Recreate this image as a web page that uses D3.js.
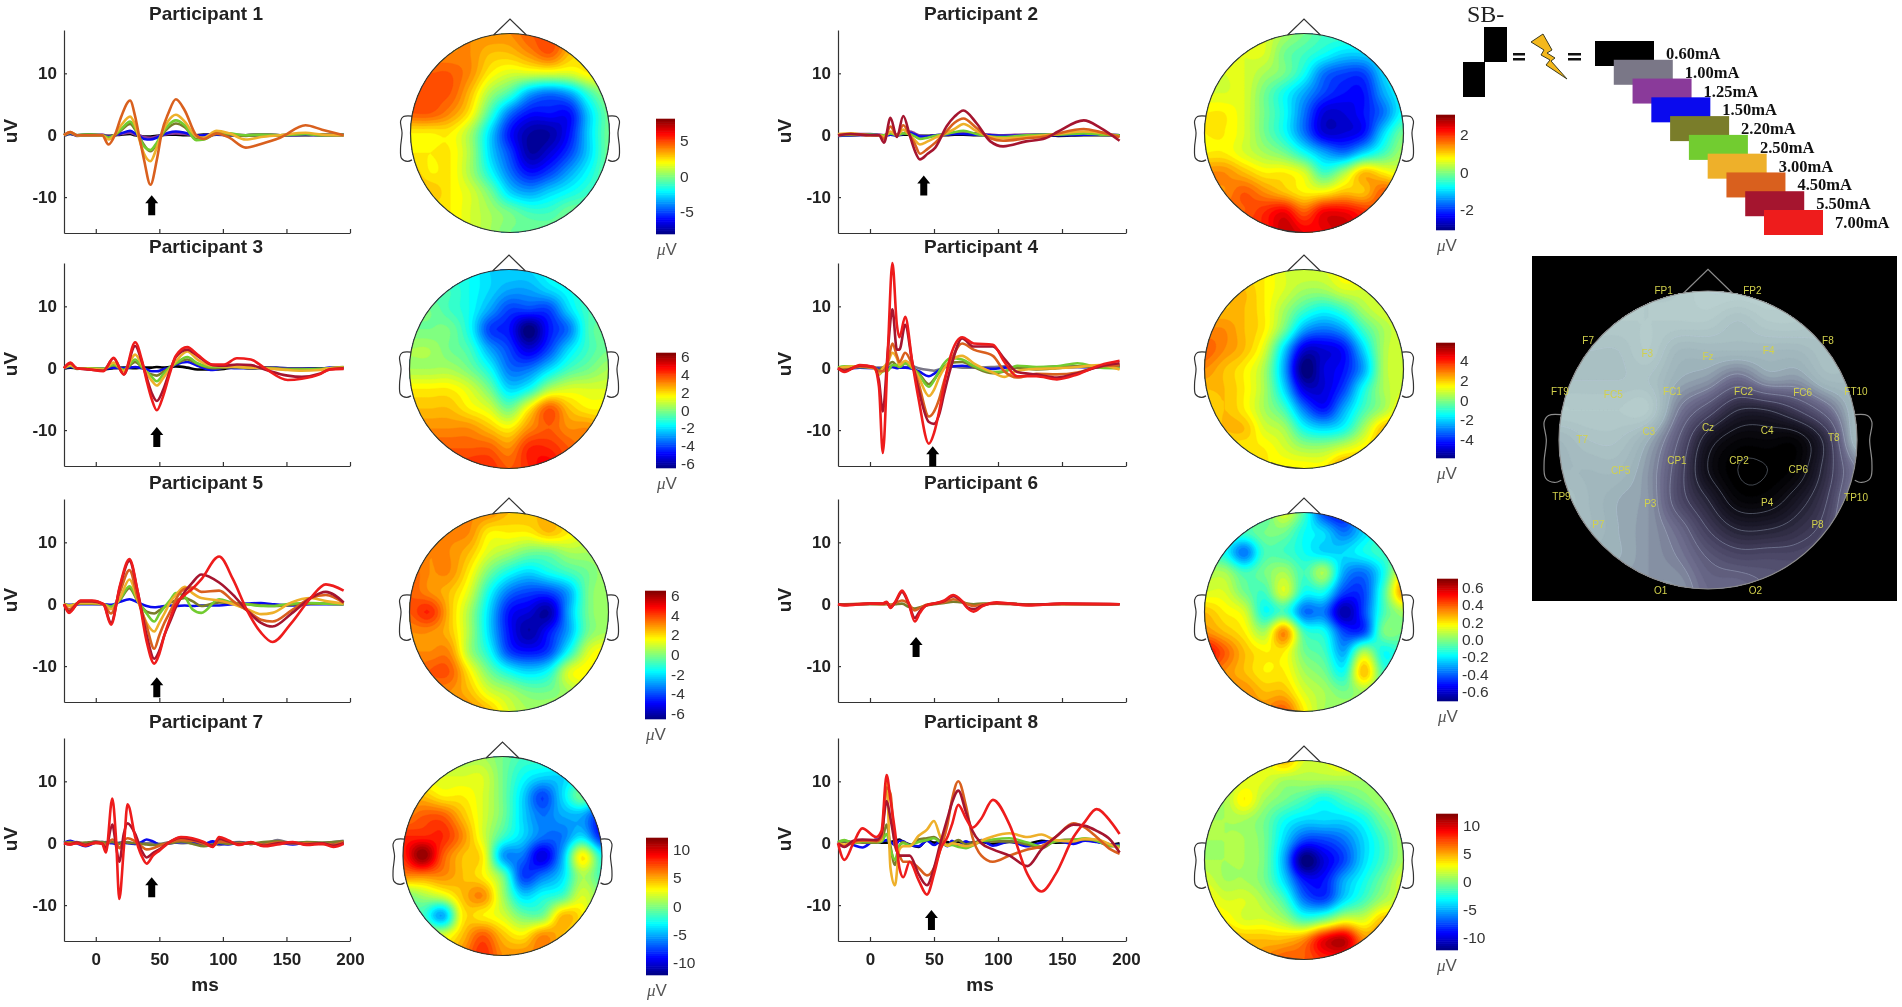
<!DOCTYPE html>
<html>
<head>
<meta charset="utf-8">
<script src="https://cdn.jsdelivr.net/npm/d3@7"></script>
<style>
  body { margin: 0; background: #fff; }
  svg { filter: blur(.5px); }
  text { font-family: "Liberation Sans", Arial, sans-serif; }
  .axis path, .axis line { stroke: #333; stroke-width: 1.2; }
  .axis text { font-size: 17px; font-weight: 700; fill: #222; }
</style>
</head>
<body>
<svg id="fig" width="1902" height="1007"></svg>
<script>
// stimulation currents and their trace colours
const currents = ["0.60mA","1.00mA","1.25mA","1.50mA","2.20mA","2.50mA","3.00mA","4.50mA","5.50mA","7.00mA"];
const currentColors = ["#000000","#7a7787","#8a3a9a","#0a0aee","#7a7d2a","#72cc30","#eeb02a","#d9601e","#a5152f","#ee1c1c"];

const titles = ["Participant 1","Participant 2","Participant 3","Participant 4","Participant 5","Participant 6","Participant 7","Participant 8"];
const msTicks = [0,50,100,150,200];
const uvTicks = [-10,0,10];

// waveforms: knots in ms, then one row per current (index into currents)
const timesP1 = [-25,-20,-15,-5,5,10,15,20,27,31,34,38,43,48,52,57,63,70,79,85,95,105,118,130,145,165,178,195];
const levelsP1 = [0,2,3,4,5,6,7];
const valuesP1 = [
  [0,.2,0,.1,0,-.1,0,.1,.2,0,-.1,-.2,-.2,-.1,0,.1,.1,0,0,.1,.2,0,0,.1,0,0,.1,0],
  [.1,.3,-.1,0,.1,-.2,0,.2,.4,.1,0,-.3,-.4,-.2,0,.2,.3,.2,-.1,0,.1,.1,0,.1,0,.1,0,.1],
  [0,.3,0,0,0,-.3,0,.3,.7,.3,-.1,-.6,-.7,-.4,0,.4,.6,.4,-.1,0,.1,0,0,0,0,.1,0,.1],
  [0,.4,0,0,0,-.4,0,.8,1.8,.9,-.2,-1.6,-2.6,-1.4,0,1.2,1.9,1.3,-.6,-.6,.2,.1,-.1,0,0,.2,0,0],
  [0,.4,0,.1,0,-.4,.1,1,2.2,1.2,-.3,-1.8,-2.4,-1.2,.2,1.6,2.4,1.6,-.8,-.7,.4,.3,0,.1,0,.2,0,.1],
  [0,.5,0,0,0,-.7,.1,1.6,3,1.6,-.5,-3,-4.2,-2,.3,2.3,3.3,2.2,-.2,-.4,.7,.3,-.7,-.3,0,.4,.1,0],
  [0,.5,0,0,0,-1.5,0,3,5.6,3,0,-4,-8,-4,.5,3.5,5.8,4,0,-.6,.3,-.4,-2,-1.4,-.4,1.6,.9,0]
];

const timesP2 = [-25,-15,0,7,11,16,21,26,31,35,39,45,51,60,66,73,83,94,104,122,137,147,167,180,195];
const levelsP2 = [0,2,3,5,6,7,8];
const valuesP2 = [
  [0,0,.1,0,0,.1,0,.1,.1,0,-.1,-.1,0,0,.1,.1,0,0,-.1,0,0,-.1,0,0,0],
  [.1,.2,.2,.1,0,.2,.1,.3,.6,.3,-.1,-.2,0,.1,.3,.4,.3,.1,0,.1,.1,.1,.2,.1,0],
  [-.1,0,.1,0,-.1,.1,0,.2,.4,.1,-.2,-.2,0,.1,.2,.2,.1,0,-.1,0,.1,0,.1,.1,0],
  [0,.1,.1,0,0,.3,0,.3,.2,-.2,-.6,-.4,-.1,.2,.5,.7,.2,-.2,-.3,0,.1,.1,.3,.1,0],
  [.2,.3,0,0,-.3,.6,0,.9,0,-.8,-1.5,-1,-.4,.4,1,1.8,.7,-.3,-.5,-.3,0,.2,.6,.4,-.2],
  [0,.2,0,0,-.6,1.4,0,1.6,0,-1.4,-3,-2.2,-1.2,.7,2,2.7,1.2,-.5,-.9,-.5,-.2,.3,1,.5,-.3],
  [0,.2,0,0,-1.2,2.8,-.3,3.1,0,-2.5,-3.9,-3,-2,1.5,3,4,2,-1,-1.8,-1,-.5,.6,2.4,1.2,-.9]
];

const timesP3 = [-25,-20,-15,-5,6,14,22,31,36,40,44,48,53,58,63,72,80,92,101,111,122,133,151,162,176,184,195];
const levelsP3 = [0,3,4,5,6,8,9];
const valuesP3 = [
  [0,.1,0,-.1,-.2,0,.1,0,.1,.1,.1,.2,.1,.2,.3,.1,-.2,-.2,-.1,.2,0,.1,0,0,0,0,.1],
  [0,.2,0,-.1,-.1,.1,0,.2,0,-.2,-.5,-.5,-.2,.1,.6,1,.4,-.3,.1,0,0,.1,0,0,-.1,.1,0],
  [0,.4,-.1,0,-.1,.5,-.3,1,.2,-.6,-1,-1.2,-.6,.1,.7,1.4,.7,0,.1,.2,0,.1,-.1,-.1,-.2,0,.2],
  [0,.4,0,0,-.1,.6,-.3,1.4,.3,-.6,-1.4,-2.1,-1,.1,.8,1.8,.8,.2,.3,.2,.1,0,-.2,-.2,-.1,0,.1],
  [0,.5,0,-.1,-.2,.9,-.5,2.2,.7,-.8,-2,-2.8,-1.6,-.2,1.1,2.7,1.4,.4,.3,.2,.1,0,-.3,-.4,-.3,0,.1],
  [0,.8,0,-.2,-.4,1.6,-1,3.6,1.2,-1.5,-4,-5.3,-3.5,-.6,1.8,3,2,.5,.4,.6,.5,-.2,-1.2,-1.4,-.9,-.2,0],
  [0,.9,0,-.2,-.5,1.7,-1,4.2,1.5,-2,-5,-6.8,-4.5,-1,2,3.4,2.2,.6,.6,1.6,1.4,0,-1.9,-1.7,-1,-.2,-.1]
];

const timesP4 = [-25,-20,-8,3,7,10,14,17.5,21,23,27.5,33,38,46,50,54,58,63,72,81,96,105,115,130,146,162,180,195];
const levelsP4 = [1,3,4,5,6,7,8,9];
const valuesP4 = [
  [0,.1,.2,.1,.1,.1,.2,.2,.1,.2,.2,.3,0,-.3,-.4,-.2,.2,.3,.1,.1,.2,.3,.1,.1,.3,.2,.2,.5],
  [0,-.1,.1,0,-.1,-.2,0,.2,0,.1,.1,-.1,-.5,-1.3,-.9,-.3,.2,.3,.4,.2,-.1,.1,.2,.1,.1,.2,.1,.3],
  [0,.1,.2,.1,-.3,.1,.5,1,.4,.2,.8,.1,-.8,-2.6,-1.8,-.7,.2,.9,1,.2,-.8,-.5,.1,-.2,0,.3,.3,.4],
  [.1,.3,.2,.2,-1,-.5,-.4,.5,.5,.2,.8,0,-1,-3,-2,-.5,.8,1.6,1.4,.4,-.6,-.5,.4,.2,.3,.8,.1,0],
  [0,.2,.3,0,-1,0,1,2.5,1.6,.5,1.2,.2,-1.5,-4.5,-3.5,-1.5,0,1.2,2,.8,-.7,-1.4,-.4,-.1,0,.2,.5,-.2],
  [0,-.3,.3,.1,-.5,-.5,1,4,2,1,2.5,.5,-2.5,-7.8,-7,-5,-2,1,4,3,2,-.5,-1.5,-.9,-1,-.7,.3,.5],
  [0,-.4,.4,.2,-2,-7,3,9.5,3,3,7,1,-3.5,-8.7,-9,-7.5,-4,0,4.8,3.5,3.5,1.5,-.6,-1,-1.5,-.8,.3,.8],
  [0,-.6,.5,.2,-3,-13.7,3,17,7,5,8.3,1,-5,-12.2,-10.5,-7,-2.5,2,5,4,3.8,1,-1.3,-1.3,-1.8,-1,.5,1.2]
];

const timesP5 = [-25,-21,-12,-3,6,12,19,26.5,33,40,46,50,54,59,63,70,76,83,97,108,119,130,139,154,169,181,195];
const levelsP5 = [3,4,5,6,7,8,9];
const valuesP5 = [
  [0,-.1,0,0,0,-.1,.4,.8,.3,-.3,-.5,-.4,-.3,-.2,-.3,-.2,-.3,-.2,-.2,0,.1,.2,0,-.2,0,0,0],
  [0,-.2,.1,.1,0,-.4,.7,2.6,.5,-1.2,-1.5,-1,-.4,.3,.6,1,.5,-.3,.3,.2,0,-.2,-.3,-.1,.1,.1,0],
  [0,-.2,.2,.2,0,-.4,.8,2.9,.6,-1.5,-2.8,-1.6,-.5,.8,1.8,1.2,-.8,-1.4,.8,.2,0,-.3,-.3,.1,.2,.1,0],
  [0,-.3,.2,.2,0,-.8,1,4,.6,-3,-4.4,-3,-1.5,.5,1.5,2.8,1.8,1,.6,0,-.8,-1.6,-1.4,.3,1,.5,.1],
  [0,-.8,.4,.4,0,-1.5,2,5.5,1,-3.5,-7.2,-5,-3,-1,.8,2.5,2.7,2,2.2,.5,-1,-2.5,-2.8,-1,1,1.5,.2],
  [0,-1.2,.5,.5,0,-3,2.8,7,2,-5,-8.8,-7.5,-5,-2.5,-.5,2,3.5,4.8,3.5,1.5,-1,-3,-3.6,-1.5,1,2,.3],
  [0,-1.4,.6,.6,0,-3.3,3,7.3,2,-6,-9.6,-8,-5,-2,0,1.5,2.5,4,7.7,4,-1,-4.6,-6.1,-3,1,3.2,2.2]
];

const timesP6 = [-25,-20,0,10,13,16,20,25,30,35,39,44,50,58,65,72,76,81,88,99,124,150,195];
const levelsP6 = [4,7,8,9];
const valuesP6 = [
  [0,0,0,0,0,-.1,0,.1,-.4,-.7,-.5,-.2,0,.2,.4,.3,.1,0,.1,.1,0,0,0],
  [0,0,.1,0,.1,-.1,.2,.6,.1,-1,-.6,-.1,.1,.3,.8,.4,0,-.3,0,.1,0,0,0],
  [0,-.1,.1,.1,.3,-.5,.4,2,.2,-2.2,-1.1,-.2,.1,.5,1.3,.4,-.5,-.8,-.2,.2,-.1,.1,0],
  [0,-.2,.1,.1,.4,-.6,.5,2.2,.3,-2.8,-1.4,-.2,.1,.6,1.5,.5,-.6,-1.2,-.3,.3,-.2,.1,0]
];

const timesP7 = [-25,-20,-15,-8,0,5,8,13,16,18.5,22,25,31,36,40,45,50,59,67,76,85,92,97,104,113,122,132,143,155,166,178,187,195];
const levelsP7 = [1,3,4,7,8,9];
const valuesP7 = [
  [.2,.1,.2,-.1,.3,.1,.2,.1,0,.1,.1,.2,-.1,0,0,.1,-.1,.2,0,.1,-.3,.1,-.3,.1,.2,0,-.1,.5,0,.1,-.1,.2,.4],
  [.1,.4,0,-.5,.1,.2,.1,0,-.1,0,.1,0,-.1,.2,.6,.3,-.2,0,.2,.1,-.1,.3,-.1,-.2,.1,-.1,0,.1,-.2,.1,0,.1,.1],
  [.1,.2,0,.1,.2,.2,.1,.2,0,-.1,.2,.1,0,-.1,-.2,-.3,-.2,0,.3,-.1,-.5,-.2,.1,-.1,.1,-.1,.2,.3,0,.2,.1,.2,.3],
  [-.1,0,.1,-.2,0,0,-.3,.6,.2,-.8,.4,.8,.3,-.5,-1,-.8,-.4,.2,.5,.4,-.1,-.5,.3,.2,-.1,0,-.2,.1,0,0,-.1,-.2,.2],
  [0,-.2,.1,-.3,.1,-.1,-.8,3,-.5,-3,1.5,3.2,1.5,-1.2,-2.3,-1.6,-1,.3,.9,.6,.1,-.4,.7,.3,-.2,.1,-.4,0,.1,-.2,0,-.4,0],
  [0,-.2,0,-.4,.1,-.1,-1.5,7.2,.5,-9,-1,6.3,1,-2,-3.3,-2,-1.2,.3,1,.8,.2,-.6,1,.5,-.3,.2,-.5,-.2,.2,-.3,-.1,-.6,-.1]
];

const timesP8 = [-25,-20,-13,-6,5,9,13,16,19.5,23,26,31,38,44.5,50,55,60.5,64,69,75,80,87,96,109,123,134,145,159,168,177,188,195];
const levelsP8 = [0,3,4,5,6,7,8,9];
const valuesP8 = [
  [0,.3,.1,.3,.2,.1,.1,.2,.4,.6,.2,-.2,-.6,.5,.1,.1,.2,-.1,.2,0,.1,.2,-.1,.2,-.1,.4,.1,.2,.5,.3,-.2,0],
  [.1,.3,-.3,-.7,.6,.3,.5,.2,-.3,.4,.3,-.3,-.5,.4,-.3,.3,-.5,.4,-.4,.3,-.2,.5,-.4,.3,-.5,.1,.4,-.1,.4,.2,-.2,-.3],
  [.1,.3,.2,.1,.1,.3,3,-.5,-3.5,-.5,.2,-.4,.6,.8,1,.3,-.2,0,.5,-.2,0,.4,.3,.3,-.2,-.8,.4,.6,.6,.4,-.5,-.5],
  [.2,.5,0,.3,.2,.3,1.5,-1,-2.7,-.3,0,-.3,.2,.5,.8,.1,-.4,-.3,-.6,-.8,-.4,.3,.6,.8,.1,-.5,.3,.5,.8,.4,-.4,-.4],
  [0,-.2,.1,.4,.4,.5,10,-4,-6.8,-1,-.5,-.5,1.2,2.2,3.6,1,-.4,0,-.2,-.5,-.3,.4,1.1,1.6,1,1.4,.5,.3,.7,.6,-.2,-.8],
  [0,-.5,.2,.4,.3,1,9,8,-.5,-2,-3,-3,-4,-5.2,-4,-1,3,7,10,6,1,-2,-3,-2,-1,-.5,1,3.2,2.5,1,-1,-1.7],
  [0,-.6,.4,.6,.5,1.5,6.8,4,0,-2,-2,-2,-5,-6.8,-4,0,4,6.5,8.5,5,2,0,-1,-2,-3.7,-1,1,3,2.8,2,.5,-1.5],
  [0,-2.7,0,2.4,1,2,11,7,2,-4,-5.5,-3,-6,-8.3,-5,-1,1,3,6.2,4,2.5,4,7,3,-5,-7.8,-5,1,3.5,5.5,3.5,1.5]
];

// arrow under each evoked dip: time (ms) and tip value (uV)
const arrowTimes = [44,42,48,49,48,36,44,48];
const arrowTips = [-9.7,-6.5,-9.5,-12.6,-11.8,-5.3,-5.5,-10.8];

// scalp maps, 11 x 11 samples over the head box, in tenths of the colour bar half range
const topoP1 = [
  [5,5,5,5,5,5,6,6,5,4,4],
  [5,5,5,5,4,4,5,6,4,3,3],
  [6,6,6,5,3,2,2,2,2,3,3],
  [6,6,6,4,1,-1,-4,-5,-4,-1,1],
  [6,6,5,3,-1,-5,-7,-7,-7,-3,0],
  [3,3,3,1,-3,-7,-9,-9,-7,-3,0],
  [3,3,3,1,-3,-6,-9,-8,-6,-3,0],
  [4,3,3,1,-2,-5,-7,-6,-4,-2,0],
  [4,4,3,2,0,-3,-4,-3,-2,-1,0],
  [3,3,3,2,1,0,-1,-1,0,0,0],
  [3,3,3,2,1,0,0,0,0,0,0]
];
const topoP2 = [
  [2,2,2,2,1,0,-1,-1,-1,-1,-1],
  [2,2,2,2,0,-1,-2,-3,-3,-2,-1],
  [2,2,2,1,0,-2,-5,-6,-6,-3,-1],
  [2,2,2,0,-2,-4,-6,-7,-7,-4,-2],
  [3,3,2,0,-2,-5,-8,-8,-7,-5,-2],
  [3,3,2,0,-2,-5,-8,-8,-7,-3,0],
  [3,3,2,1,0,-2,-4,-5,-3,-1,1],
  [5,5,4,3,3,2,-1,1,4,3,2],
  [5,5,6,5,4,3,3,4,4,6,5],
  [6,6,6,7,8,6,8,8,7,6,6],
  [7,7,7,7,9,8,8,9,7,7,7]
];
const topoP3 = [
  [-1,-1,-2,-2,-3,-3,-3,-2,-1,-1,-1],
  [-1,-1,-1,-2,-3,-4,-4,-3,-2,-1,-1],
  [0,0,-1,-2,-4,-6,-6,-6,-3,-1,-1],
  [0,0,0,-2,-6,-7,-10,-7,-5,-1,0],
  [1,1,0,-1,-4,-6,-8,-6,-3,-1,0],
  [1,1,1,0,-2,-5,-5,-3,-1,0,1],
  [3,3,3,2,0,-3,-2,1,2,2,2],
  [4,4,4,3,2,0,3,6,4,3,3],
  [5,5,5,5,4,3,5,6,5,5,4],
  [6,6,6,6,6,5,7,7,6,5,5],
  [6,6,6,7,7,6,7,8,6,6,6]
];
const topoP4 = [
  [3,3,3,3,2,2,2,3,3,2,2],
  [4,4,4,3,2,1,1,2,2,2,2],
  [4,4,4,3,1,-1,-2,-1,1,2,2],
  [5,5,4,3,0,-4,-5,-4,-1,1,2],
  [6,5,4,2,-3,-8,-8,-7,-3,1,2],
  [5,4,3,1,-4,-10,-8,-7,-4,1,2],
  [4,4,3,1,-3,-8,-8,-6,-2,1,2],
  [3,4,3,1,-1,-5,-7,-4,-1,1,3],
  [3,4,4,2,1,-2,-3,-2,1,4,4],
  [3,3,3,3,2,1,1,2,3,4,3],
  [3,3,3,3,3,3,3,5,4,3,3]
];
const topoP5 = [
  [4,4,4,5,5,4,4,4,3,3,3],
  [5,5,5,5,3,3,3,4,3,2,2],
  [5,5,5,4,2,1,0,0,1,1,1],
  [6,5,5,3,0,-2,-3,-2,-1,0,1],
  [6,5,4,2,-2,-5,-6,-6,-4,0,1],
  [6,7,4,1,-3,-7,-8,-9,-4,0,1],
  [5,5,4,1,-3,-7,-9,-7,-4,0,1],
  [5,5,5,1,-2,-6,-7,-6,-2,2,3],
  [5,6,6,3,0,-2,-3,-2,2,3,3],
  [5,5,5,4,2,1,0,0,1,2,2],
  [5,5,5,5,4,2,1,1,1,2,2]
];
const topoP6 = [
  [-1,-1,-1,-1,2,-1,-6,-7,-3,-1,-1],
  [-1,-1,-1,0,0,-2,-3,-5,-3,-1,-1],
  [-1,-2,-5,-1,-1,-2,-3,-3,-2,-1,-1],
  [1,1,-1,0,1,-1,1,-4,-5,-2,3],
  [2,2,0,-1,2,-2,-2,-6,-6,-1,5],
  [4,3,2,-2,-1,-5,-5,-9,-6,-1,1],
  [5,4,3,1,5,-1,-2,-6,-6,0,0],
  [8,6,4,3,3,0,-1,-4,1,-2,-1],
  [6,5,4,3,3,1,0,-2,4,-1,-1],
  [5,5,5,4,4,2,1,0,1,0,0],
  [5,5,5,5,6,3,1,1,1,1,1]
];
const topoP7 = [
  [1,1,1,1,1,0,-1,-1,-1,-2,-2],
  [2,2,2,2,2,0,-2,-3,-3,-2,-2],
  [4,4,3,3,2,0,-3,-6,-3,0,-3],
  [5,6,6,4,2,0,-3,-5,-4,-4,-7],
  [7,7,7,5,2,-1,-3,-5,-5,-3,-7],
  [7,10,6,4,3,-4,-5,-8,-4,3,-2],
  [5,5,5,4,3,0,-6,-5,-3,1,-1],
  [0,1,2,4,5,1,-3,-2,-1,2,0],
  [0,-1,-4,3,3,2,0,0,4,3,-1],
  [2,2,2,4,6,4,3,5,4,2,1],
  [3,3,3,5,7,5,5,5,3,2,2]
];
const topoP8 = [
  [2,2,2,2,4,2,2,3,2,2,2],
  [1,1,2,2,1,1,1,1,1,1,1],
  [1,1,3,1,0,-1,-2,-1,0,1,1],
  [1,1,1,0,-2,-3,-3,-3,-2,0,1],
  [1,1,1,0,-3,-6,-6,-5,-3,-1,1],
  [1,1,1,0,-4,-10,-8,-6,-3,-1,1],
  [2,1,1,0,-3,-7,-7,-4,-2,0,2],
  [3,2,2,1,-1,-5,-6,-3,-1,1,2],
  [3,3,2,2,1,-1,0,2,2,4,3],
  [3,4,4,4,4,5,8,9,5,5,3],
  [4,4,4,5,6,6,7,7,5,5,5]
];
const topoAverage = [
  [5,5,5,5,5,6,6,6,5,4,4],
  [4,5,5,5,5,5,4,5,5,4,4],
  [4,4,4,5,3,3,3,3,3,4,4],
  [4,4,4,4,2,1,-1,1,1,3,3],
  [5,5,5,5,0,-3,-6,-6,-4,-1,3],
  [3,4,4,2,-2,-7,-9,-9,-9,-5,3],
  [3,3,3,1,-3,-8,-10,-10,-9,-5,0],
  [4,3,2,1,-3,-6,-9,-9,-7,-4,1],
  [3,3,2,1,-1,-4,-6,-6,-5,-3,2],
  [2,2,2,1,0,-2,-3,-3,-3,-2,0],
  [1,1,1,1,1,-1,-1,-2,-2,-1,0]
];

// colour bar half range (uV) and ticks per map
const barMax = [8,3.04,6.4,5.8,6.5,.7,12.2,12.1];
const barTicks = [
  [-5,0,5],[-2,0,2],[-6,-4,-2,0,2,4,6],[-4,-2,0,2,4],[-6,-4,-2,0,2,4,6],
  [-.6,-.4,-.2,0,.2,.4,.6],[-10,-5,0,5,10],[-10,-5,0,5,10]
];

// electrode labels on the grey map
const electrodes = ["FP1","FP2","F7","F3","Fz","F4","F8","FT9","FC5","FC1","FC2","FC6","FT10","T7","C3","Cz","C4","T8","TP9","CP5","CP1","CP2","CP6","TP10","P7","P3","P4","P8","O1","O2"];
const electrodeX = [-.30,.30,-.81,-.41,0,.41,.81,-1,-.64,-.24,.24,.64,1,-.85,-.40,0,.40,.85,-.99,-.59,-.21,.21,.61,1,-.74,-.39,.40,.74,-.32,.32];
const electrodeY = [-1,-1,-.67,-.58,-.56,-.6,-.67,-.33,-.31,-.33,-.33,-.32,-.33,-.01,-.06,-.09,-.07,-.02,.37,.2,.13,.13,.19,.38,.56,.42,.41,.56,1,1];

// layout, reference pixels
const times = [timesP1,timesP2,timesP3,timesP4,timesP5,timesP6,timesP7,timesP8];
const levels = [levelsP1,levelsP2,levelsP3,levelsP4,levelsP5,levelsP6,levelsP7,levelsP8];
const values = [valuesP1,valuesP2,valuesP3,valuesP4,valuesP5,valuesP6,valuesP7,valuesP8];
const topos = [topoP1,topoP2,topoP3,topoP4,topoP5,topoP6,topoP7,topoP8];
const colLeft = [64,838];
const colRight = [350,1126];
const rowZero = [135,368,604,843];
const headX = [510,1304,509,1304,509,1304,502.5,1304];
const headY = [133,133,369,369,612,612,856,860];
const barX = [656,1436,656,1436,645,1437,646,1436];
const barW = [19,19,20,19,21,21,22,22];
const barTop = [119,115,353,343,591,579,838,814];
const barBottom = [234,230,468,458,719,701,975,950];

const svg = d3.select("#fig");
const defs = svg.append("defs");

const jet = d3.scaleLinear()
  .domain([-1,-.75,-.25,.25,.75,1])
  .range(["#000080","#0000ff","#00ffff","#ffff00","#ff0000","#800000"])
  .clamp(true);

const greyMap = d3.scaleLinear()
  .domain([-10,-7,-4,-1,2,5,8])
  .range(["#000000","#1a1828","#45415f","#6d6c8c","#9db3ba","#b5cccc","#c8dede"])
  .clamp(true);

// Catmull-Rom upsampling of a topo table so the contours come out smooth
function upsample(grid, k) {
  const n = grid.length;
  const m = (n - 1) * k + 1;
  const out = new Array(m * m);
  const cr = (a, b, c, d, t) =>
    .5 * (2 * b + (c - a) * t + (2 * a - 5 * b + 4 * c - d) * t * t + (3 * b - a - 3 * c + d) * t * t * t);
  const at = (r, c) => grid[Math.max(0, Math.min(n - 1, r))][Math.max(0, Math.min(n - 1, c))];
  for (let j = 0; j < m; j++) {
    const r = Math.min(Math.floor(j / k), n - 2), ty = j / k - r;
    for (let i = 0; i < m; i++) {
      const c = Math.min(Math.floor(i / k), n - 2), tx = i / k - c;
      const col = [-1,0,1,2].map(dr =>
        cr(at(r+dr,c-1), at(r+dr,c), at(r+dr,c+1), at(r+dr,c+2), tx));
      out[j * m + i] = cr(col[0], col[1], col[2], col[3], ty);
    }
  }
  return { size: m, data: out };
}

function drawHeadOutline(g, cx, cy, r, color, width) {
  const ux = d3.scaleLinear().domain([-1,1]).range([cx - r, cx + r]);
  const uy = d3.scaleLinear().domain([-1,1]).range([cy - r, cy + r]);
  const line = d3.line().x(d => ux(d[0])).y(d => uy(d[1]));
  const earShape = [[-.985,-.17],[-1.07,-.165],[-1.1,-.12],[-1.085,0],[-1.1,.15],[-1.09,.255],[-1.03,.285],[-.985,.27]];
  const outline = g.append("g").attr("fill","none").attr("stroke",color).attr("stroke-width",width);
  outline.append("path").attr("d", line.curve(d3.curveCatmullRom)(earShape));
  outline.append("path").attr("d", line(earShape.map(d => [-d[0], d[1]])));
  outline.append("path").attr("d", line.curve(d3.curveLinear)([[-.165,-.985],[0,-1.146],[.165,-.985]]));
  outline.append("circle").attr("cx",cx).attr("cy",cy).attr("r",r);
}

function drawTopo(g, id, grid, cx, cy, r, colorOf, thresholds) {
  const up = upsample(grid, 8);
  const k = 2 * r / (up.size - 1);
  const path = d3.geoPath(d3.geoIdentity().scale(k).translate([cx - r - .5 * k, cy - r - .5 * k]));
  defs.append("clipPath").attr("id", id).append("circle").attr("cx",cx).attr("cy",cy).attr("r",r);
  const maps = g.append("g").attr("clip-path", `url(#${id})`);
  maps.append("rect").attr("x",cx-r).attr("y",cy-r).attr("width",2*r).attr("height",2*r).attr("fill",colorOf(-10));
  const bands = d3.contours().size([up.size, up.size]).thresholds(thresholds)(up.data);
  maps.selectAll("path").data(bands).join("path")
    .attr("d", path)
    .attr("fill", d => colorOf(d.value))
    .attr("stroke", d => colorOf(d.value))
    .attr("stroke-width", .4);
  return { maps, bands, path };
}

titles.forEach((title, p) => {
  const col = p % 2, row = Math.floor(p / 2);
  const g = svg.append("g");
  const x = d3.scaleLinear().domain([-25,200]).range([colLeft[col], colRight[col]]);
  const y = d3.scaleLinear().domain([-15.8,17]).range([rowZero[row] + 98, rowZero[row] - 105]);

  // axes
  g.append("g").attr("class","axis")
    .attr("transform",`translate(${colLeft[col]},0)`)
    .call(d3.axisLeft(y).tickValues(uvTicks).tickFormat(String).tickSizeInner(-3).tickSizeOuter(0).tickPadding(7));
  g.append("g").attr("class","axis")
    .attr("transform",`translate(0,${y(-15.8)})`)
    .call(d3.axisBottom(x).tickValues(msTicks).tickFormat(row === 3 ? String : () => "").tickSizeInner(-4).tickSizeOuter(0).tickPadding(12));

  // traces, low current first
  const line = d3.line().x(d => x(d[0])).y(d => y(d[1])).curve(d3.curveMonotoneX);
  g.append("g").attr("fill","none").attr("stroke-linejoin","round")
    .selectAll("path").data(values[p]).join("path")
    .attr("stroke", (d,i) => currentColors[levels[p][i]])
    .attr("stroke-width", 2.6)
    .attr("d", d => line(d.map((v,i) => [times[p][i], v])));

  // arrow
  const ax = x(arrowTimes[p]), ay = y(arrowTips[p]);
  g.append("path").attr("fill","#000")
    .attr("d", d3.line()([[ax,ay],[ax+6.5,ay+8],[ax+3.5,ay+8],[ax+3.5,ay+20],[ax-3.5,ay+20],[ax-3.5,ay+8],[ax-6.5,ay+8]]) + "Z");

  // labels
  g.append("text").attr("x",(colLeft[col]+colRight[col])/2 - 1).attr("y",rowZero[row]-115)
    .attr("text-anchor","middle").attr("font-size",19).attr("font-weight",700).attr("fill","#222").text(title);
  g.append("text").attr("transform",`translate(${colLeft[col]-47},${rowZero[row]-4}) rotate(-90)`)
    .attr("text-anchor","middle").attr("font-size",19).attr("font-weight",700).attr("fill","#222").text("uV");
  if (row === 3) {
    g.append("text").attr("x",(colLeft[col]+colRight[col])/2 - 2).attr("y",y(-15.8)+50)
      .attr("text-anchor","middle").attr("font-size",19).attr("font-weight",700).attr("fill","#222").text("ms");
  }

  // scalp map
  const levelsIn = d3.range(-10, 10.01, .5);
  drawTopo(g, "head"+p, topos[p], headX[p], headY[p], 99.5, v => jet(v/10), levelsIn);
  drawHeadOutline(g, headX[p], headY[p], 99.5, "#333", 1.2);

  // colour bar
  const bar = d3.scaleLinear().domain([-barMax[p],barMax[p]]).range([barBottom[p],barTop[p]]);
  const stepsUv = d3.range(64).map(i => -barMax[p] + (i + .5) * 2 * barMax[p] / 64);
  const stepH = (barBottom[p] - barTop[p]) / 64;
  g.append("g").selectAll("rect").data(stepsUv).join("rect")
    .attr("x",barX[p]).attr("width",barW[p])
    .attr("y",d => bar(d) - stepH/2 - .3).attr("height",stepH + .6)
    .attr("fill",d => jet(d/barMax[p]));
  g.append("g").selectAll("text").data(barTicks[p]).join("text")
    .attr("x",barX[p]+barW[p]+ (p === 5 ? 4 : 5)).attr("y",d => bar(d)+5)
    .attr("font-size",15.5).attr("fill","#333")
    .text(d => barMax[p] < 1 ? d.toFixed(1) : String(d));
  const unit = g.append("text").attr("x",barX[p]+1).attr("y",barBottom[p]+21).attr("font-size",17).attr("fill","#555");
  unit.append("tspan").style("font-family","'Liberation Serif'").attr("font-style","italic").text("\u03bc");
  unit.append("tspan").text("V");
});

// current legend, top right
const legendX = d3.scaleLinear().domain([0,9]).range([1595,1764]);
const legendY = d3.scaleLinear().domain([0,9]).range([41,210]);
const legend = svg.append("g");
legend.selectAll("rect").data(currents).join("rect")
  .attr("x",(d,i) => legendX(i)).attr("y",(d,i) => legendY(i))
  .attr("width",59).attr("height",25).attr("fill",(d,i) => currentColors[i]);
legend.selectAll("text").data(currents).join("text")
  .attr("x",(d,i) => legendX(i)+71).attr("y",(d,i) => legendY(i)+18)
  .attr("font-weight",700).attr("font-size",16.5).attr("fill","#111")
  .style("font-family","'Liberation Serif'")
  .text(d => d);

legend.append("text").attr("x",1467).attr("y",22).style("font-family","'Liberation Serif'").attr("font-size",24).attr("fill","#222").text("SB-");
legend.append("rect").attr("x",1484).attr("y",27).attr("width",23).attr("height",35).attr("fill","#000");
legend.append("rect").attr("x",1463).attr("y",62).attr("width",22).attr("height",35).attr("fill","#000");
[[1513,1525],[1568,1581]].forEach(e => {
  legend.append("rect").attr("x",e[0]).attr("y",53).attr("width",e[1]-e[0]).attr("height",2.5).attr("fill","#111");
  legend.append("rect").attr("x",e[0]).attr("y",58).attr("width",e[1]-e[0]).attr("height",2.5).attr("fill","#111");
});
legend.append("path")
  .attr("d", d3.line()([[1531,42],[1543,34],[1552,50],[1547,53],[1555,58],[1551,61],[1567,79],[1546,65],[1550,60],[1541,55],[1544,50]]) + "Z")
  .attr("fill","#f4b81c").attr("stroke","#3a3a20").attr("stroke-width",1);

// grey grand average map
const avg = svg.append("g");
avg.append("rect").attr("x",1532).attr("y",256).attr("width",365).attr("height",345).attr("fill","#000");
const avgMap = drawTopo(avg, "headAvg", topoAverage, 1708, 440, 149, greyMap, d3.range(-10, 10.01, .5));
avgMap.maps.append("g").attr("fill","none").attr("stroke","#b8c6dc").attr("stroke-opacity",.45).attr("stroke-width",.8)
  .selectAll("path").data(avgMap.bands.filter(d => d.value % 2 === 0)).join("path").attr("d",avgMap.path);
drawHeadOutline(avg, 1708, 440, 149, "#8d8d8d", 1.2);
avg.append("g").selectAll("text").data(electrodes).join("text")
  .attr("x",(d,i) => 1708 + electrodeX[i]*148).attr("y",(d,i) => 440 + electrodeY[i]*150 + 4)
  .attr("text-anchor","middle").attr("font-size",10).attr("fill","#d2d14c").text(d => d);
</script>
</body>
</html>
